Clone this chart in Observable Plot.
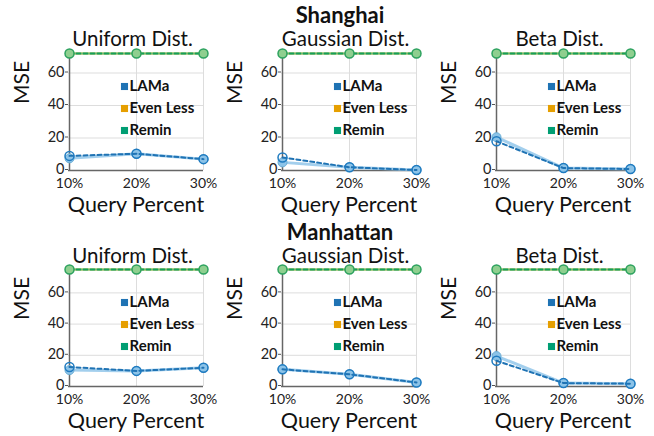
<!DOCTYPE html>
<html><head><meta charset="utf-8">
<script src="https://cdn.jsdelivr.net/npm/d3@7"></script>
<script src="https://cdn.jsdelivr.net/npm/@observablehq/plot@0.6"></script>
<style>
html,body{margin:0;padding:0;background:#fff;}
#root{position:relative;width:654px;height:436px;font-family:Lato,"DejaVu Sans",sans-serif;color:#111;}
.ttl{position:absolute;transform:translate(-50%,-50%);white-space:nowrap;line-height:1;}
.city{font-weight:bold;font-size:22px;}
.dist{font-size:20.5px;}
.panel{position:absolute;}
</style>
</head><body><div id="root"></div>
<script>
// ---- data ----
const queryPercents = ["10%", "20%", "30%"];
const distNames = ["Uniform Dist.", "Gaussian Dist.", "Beta Dist."];
const cities = ["Shanghai", "Manhattan"];
const legendNames = ["LAMa", "Even Less", "Remin"];
const yTicks = [0, 20, 40, 60];

// LAMa (dashed, open markers)
const shanghaiLama = [[9, 10.3, 7], [8, 2, 0.3], [18, 1.5, 0.9]];
// LAMa (solid, light markers)
const shanghaiLamaLight = [[7.5, 10.3, 7], [5, 2, 0.3], [20.5, 1.5, 0.9]];
const shanghaiEvenLess = [[72, 72, 72], [72, 72, 72], [72, 72, 72]];
const shanghaiRemin = [[72, 72, 72], [72, 72, 72], [72, 72, 72]];

const manhattanLama = [[12.5, 10, 12], [11, 7.8, 2.6], [16.5, 2.2, 1.8]];
const manhattanLamaLight = [[10.5, 10, 12], [11, 7.8, 2.6], [19.5, 2.2, 1.8]];
const manhattanEvenLess = [[75, 75, 75], [75, 75, 75], [75, 75, 75]];
const manhattanRemin = [[75, 75, 75], [75, 75, 75], [75, 75, 75]];

const colors = {LAMa: "#1f73b4", "Even Less": "#E69F00", Remin: "#009E73"};

// ---- layout ----
const root = document.getElementById("root");
const frameLefts = [68, 281, 495];
const frameW = 135;
const rowTops = [40, 256];
const cityY = [15, 232];
const distY = [38, 255];
const mL = 50, mR = 15, mT = 13, mB = 45, H = 175;

function rows(vals) { return queryPercents.map((q, i) => ({q, v: vals[i]})); }

function panel(vals, yMax) {
  const [lama, lamaLight, even, remin] = vals.map(rows);
  const legendMarks = legendNames.flatMap((name, i) => [
    Plot.dot([name], {frameAnchor: "top-left", dx: 56, dy: 33 + 22 * i, symbol: "square", r: 4, fill: colors[name], stroke: null}),
    Plot.text([name], {frameAnchor: "top-left", dx: 61, dy: 33 + 22 * i, text: d => d, textAnchor: "start", lineAnchor: "middle", fontWeight: "bold", fontSize: 15, fill: "#111"})
  ]);
  return Plot.plot({
    width: mL + frameW + mR, height: H,
    marginLeft: mL, marginRight: mR, marginTop: mT, marginBottom: mB,
    style: {background: "transparent", fontFamily: "Lato", fontSize: "14px", color: "#222", overflow: "visible"},
    x: {type: "point", domain: queryPercents, padding: 0, label: null},
    y: {domain: [0, yMax], label: null},
    marks: [
      Plot.gridX(queryPercents, {stroke: "#ddd", strokeOpacity: 1}),
      Plot.gridY([20, 40, 60], {stroke: "#ddd", strokeOpacity: 1}),
      Plot.axisX({tickSize: 0, tickPadding: 8, fontSize: 14, fill: "#222"}),
      Plot.axisY({ticks: yTicks, tickSize: 3, tickPadding: 1, fontSize: 14.5, fill: "#222", stroke: "#555", dy: -1}),
      Plot.ruleX([queryPercents[0]], {stroke: "#666", strokeWidth: 1.5}),
      Plot.ruleY([0], {stroke: "#666", strokeWidth: 1.5}),
      Plot.text(["Query Percent"], {frameAnchor: "bottom", lineAnchor: "middle", dy: 35, fontSize: 21.5, fill: "#111"}),
      Plot.text(["MSE"], {frameAnchor: "left", lineAnchor: "middle", dx: -46, dy: -8, rotate: -90, fontSize: 21, fill: "#111"}),
      ...legendMarks,
      // Even Less (under Remin)
      Plot.line(even, {x: "q", y: "v", stroke: colors["Even Less"], strokeWidth: 2.5, strokeOpacity: 0.55}),
      Plot.dot(even, {x: "q", y: "v", r: 4.5, fill: colors["Even Less"], fillOpacity: 0.5}),
      // Remin
      Plot.line(remin, {x: "q", y: "v", stroke: "#7cc98a", strokeWidth: 2.5, strokeOpacity: 0.6}),
      Plot.line(remin, {x: "q", y: "v", stroke: "#16a05a", strokeWidth: 2, strokeDasharray: "4,3"}),
      Plot.dot(remin, {x: "q", y: "v", r: 4.5, fill: "#8fcf8f", stroke: "#2ca25f", strokeWidth: 1.5}),
      // LAMa light
      Plot.line(lamaLight, {x: "q", y: "v", stroke: "#8cc3e8", strokeWidth: 3, strokeOpacity: 0.8}),
      Plot.dot(lamaLight, {x: "q", y: "v", r: 4.5, fill: "#8cc3e8", stroke: "#6aaed6", strokeWidth: 1}),
      // LAMa dashed
      Plot.line(lama, {x: "q", y: "v", stroke: colors.LAMa, strokeWidth: 2, strokeDasharray: "4,3"}),
      Plot.dot(lama, {x: "q", y: "v", r: 4.5, fill: "none", stroke: "#1f7bc0", strokeWidth: 1.5})
    ]
  });
}

const cityData = [
  [shanghaiLama, shanghaiLamaLight, shanghaiEvenLess, shanghaiRemin, 72],
  [manhattanLama, manhattanLamaLight, manhattanEvenLess, manhattanRemin, 75]
];

cityData.forEach((cd, r) => {
  for (let c = 0; c < 3; c++) {
    const svg = panel([cd[0][c], cd[1][c], cd[2][c], cd[3][c]], cd[4]);
    const wrap = document.createElement("div");
    wrap.className = "panel";
    wrap.style.left = (frameLefts[c] - mL) + "px";
    wrap.style.top = rowTops[r] + "px";
    wrap.appendChild(svg);
    root.appendChild(wrap);
    const t = document.createElement("div");
    t.className = "ttl dist";
    t.textContent = distNames[c];
    t.style.left = (frameLefts[c] + frameW / 2 - 3) + "px";
    t.style.top = distY[r] + "px";
    root.appendChild(t);
  }
  const ct = document.createElement("div");
  ct.className = "ttl city";
  ct.textContent = cities[r];
  ct.style.left = "340px";
  ct.style.top = cityY[r] + "px";
  root.appendChild(ct);
});
</script>
</body></html>
